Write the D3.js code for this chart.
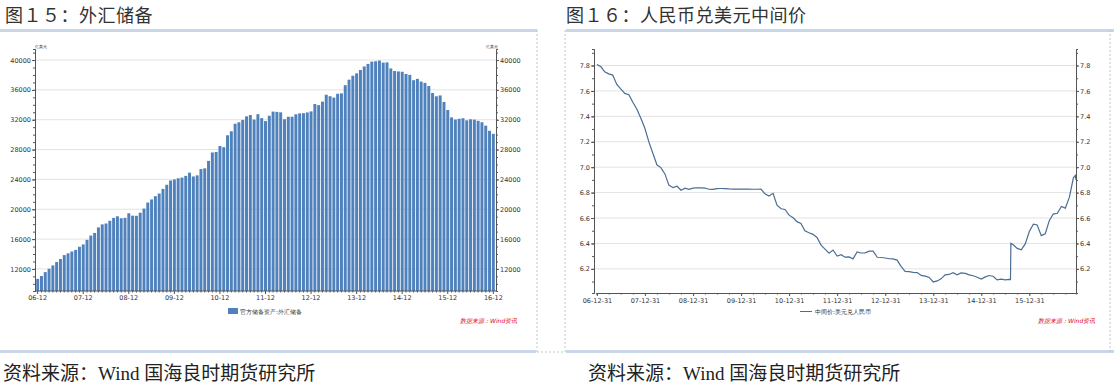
<!DOCTYPE html>
<html>
<head>
<meta charset="utf-8">
<script src="https://cdn.jsdelivr.net/npm/d3@7"></script>
<style>
  body { margin: 0; background: #fff; }
  svg { display: block; }
  .tiny { font-family: "DejaVu Sans", sans-serif; font-size: 6.5px; fill: #333; }
  .title { font-family: "Noto Sans CJK SC", sans-serif; font-size: 18px; fill: #333; letter-spacing: 0.5px; }
  .src { font-family: "Liberation Serif", "Noto Sans CJK SC", serif; font-size: 19px; fill: #222; }
</style>
</head>
<body>
<script>
const width = 1114, height = 387;

// 外汇储备, monthly, 亿美元, 2006-12 .. 2016-12
const reserveMonths = d3.range(121).map(i => new Date(2006, 11 + i, 1));
const reserveValues = [
  10663,
  11046, 11573, 12020, 12470, 12926, 13326, 13853, 14086, 14336, 14545, 14968, 15282,
  15898, 16471, 16822, 17566, 17969, 18088, 18452, 18841, 19056, 18797, 18847, 19460,
  19135, 19121, 19537, 20088, 20896, 21316, 21746, 22108, 22726, 23283, 23856, 23992,
  24152, 24245, 24471, 24905, 24395, 24543, 25380, 25483, 26483, 27609, 27679, 28473,
  28316, 29914, 30447, 31464, 31661, 31975, 32453, 32625, 32017, 32738, 32209, 31811,
  32536, 33090, 33050, 32989, 32061, 32400, 32400, 32730, 32851, 32874, 32977, 33116,
  34100, 33954, 34426, 35345, 35148, 34967, 35478, 35530, 36627, 37366, 37895, 38213,
  38666, 39137, 39481, 39788, 39838, 39932, 39660, 39688, 38877, 38529, 38473, 38430,
  38134, 38015, 37300, 37481, 37111, 36938, 36513, 35574, 35141, 35255, 34383, 33304,
  32309, 32023, 32126, 32197, 31917, 32052, 32011, 31852, 31664, 31206, 30516, 30105
];
const reserveTicks = [12000, 16000, 20000, 24000, 28000, 32000, 36000, 40000];

// 中间价:美元兑人民币
const fxDates = [
  "2006-12-31",
  "2007-01-31","2007-02-28","2007-03-31","2007-04-30","2007-05-31","2007-06-30","2007-07-31","2007-08-31","2007-09-30","2007-10-31","2007-11-30","2007-12-31",
  "2008-01-31","2008-02-29","2008-03-31","2008-04-30","2008-05-31","2008-06-30","2008-07-31","2008-08-31","2008-09-30","2008-10-31","2008-11-30","2008-12-31",
  "2009-01-31","2009-02-28","2009-03-31","2009-04-30","2009-05-31","2009-06-30","2009-07-31","2009-08-31","2009-09-30","2009-10-31","2009-11-30","2009-12-31",
  "2010-01-31","2010-02-28","2010-03-31","2010-04-30","2010-05-31","2010-06-30","2010-07-31","2010-08-31","2010-09-30","2010-10-31","2010-11-30","2010-12-31",
  "2011-01-31","2011-02-28","2011-03-31","2011-04-30","2011-05-31","2011-06-30","2011-07-31","2011-08-31","2011-09-30","2011-10-31","2011-11-30","2011-12-31",
  "2012-01-31","2012-02-29","2012-03-31","2012-04-30","2012-05-31","2012-06-30","2012-07-31","2012-08-31","2012-09-30","2012-10-31","2012-11-30","2012-12-31",
  "2013-01-31","2013-02-28","2013-03-31","2013-04-30","2013-05-31","2013-06-30","2013-07-31","2013-08-31","2013-09-30","2013-10-31","2013-11-30","2013-12-31",
  "2014-01-31","2014-02-28","2014-03-31","2014-04-30","2014-05-31","2014-06-30","2014-07-31","2014-08-31","2014-09-30","2014-10-31","2014-11-30","2014-12-31",
  "2015-01-31","2015-02-28","2015-03-31","2015-04-30","2015-05-31","2015-06-30","2015-07-31","2015-08-10","2015-08-13","2015-08-31","2015-09-30","2015-10-31","2015-11-30","2015-12-31",
  "2016-01-31","2016-02-29","2016-03-31","2016-04-30","2016-05-31","2016-06-30","2016-07-31","2016-08-31","2016-09-30","2016-10-31","2016-11-30","2016-12-15","2016-12-20"
];
const fxValues = [
  7.8087,
  7.7898, 7.7498, 7.7342, 7.7247, 7.6516, 7.6155, 7.5805, 7.5709, 7.5108, 7.4555, 7.3850, 7.3046,
  7.1956, 7.1100, 7.0190, 6.9965, 6.9472, 6.8591, 6.8388, 6.8498, 6.8183, 6.8349, 6.8258, 6.8346,
  6.8382, 6.8379, 6.8359, 6.8263, 6.8258, 6.8319, 6.8322, 6.8318, 6.8290, 6.8271, 6.8275, 6.8282,
  6.8270, 6.8269, 6.8263, 6.8263, 6.8284, 6.7909, 6.7735, 6.7943, 6.7011, 6.6732, 6.6670, 6.6227,
  6.6017, 6.5713, 6.5564, 6.4990, 6.4845, 6.4716, 6.4470, 6.3867, 6.3549, 6.3233, 6.3482, 6.3009,
  6.3115, 6.2919, 6.2943, 6.2787, 6.3338, 6.3249, 6.3264, 6.3393, 6.3395, 6.2913, 6.2892, 6.2855,
  6.2795, 6.2779, 6.2689, 6.2197, 6.1796, 6.1787, 6.1725, 6.1705, 6.1480, 6.1425, 6.1325, 6.0969,
  6.1050, 6.1214, 6.1521, 6.1560, 6.1695, 6.1528, 6.1675, 6.1647, 6.1525, 6.1461, 6.1345, 6.1190,
  6.1370, 6.1475, 6.1422, 6.1137, 6.1196, 6.1136, 6.1172, 6.1162, 6.4010, 6.3893, 6.3613, 6.3495, 6.3962, 6.4936,
  6.5516, 6.5452, 6.4612, 6.4762, 6.5790, 6.6312, 6.6371, 6.6908, 6.6778, 6.7641, 6.9168, 6.9350, 6.9000
];
const fxTicks = [6.2, 6.4, 6.6, 6.8, 7.0, 7.2, 7.4, 7.6, 7.8];
const fxLabelYears = d3.range(2006, 2016);

const svg = d3.select(document.body).append("svg")
  .attr("width", width).attr("height", height);

// ---------- frames, titles, sources ----------
const band = "#c8d6e7";
svg.append("rect").attr("x", 0).attr("y", 29).attr("width", 537).attr("height", 3).attr("fill", band);
svg.append("rect").attr("x", 566).attr("y", 29).attr("width", 548).attr("height", 3).attr("fill", band);
svg.append("rect").attr("x", 0).attr("y", 350).attr("width", 536).attr("height", 3).attr("fill", band);
svg.append("rect").attr("x", 566).attr("y", 350).attr("width", 548).attr("height", 3).attr("fill", band);

[537, 565, 1110].forEach(x => {
  svg.append("line").attr("x1", x).attr("x2", x).attr("y1", 30).attr("y2", 352)
    .attr("stroke", "#c4c4c4").attr("stroke-dasharray", "2,2");
});
svg.append("line").attr("x1", 537).attr("x2", 565).attr("y1", 352).attr("y2", 352)
  .attr("stroke", "#c4c4c4").attr("stroke-dasharray", "2,2");

svg.append("text").attr("class", "title").attr("x", 5).attr("y", 21.5).text("图１５：外汇储备");
svg.append("text").attr("class", "title").attr("x", 566).attr("y", 21.5).text("图１６：人民币兑美元中间价");
svg.append("text").attr("class", "src").attr("x", 3).attr("y", 380).text("资料来源：Wind 国海良时期货研究所");
svg.append("text").attr("class", "src").attr("x", 588).attr("y", 380).text("资料来源：Wind 国海良时期货研究所");

// ---------- left: bars ----------
const L = { left: 35, right: 496, top: 49, bottom: 291 };
const xb = d3.scaleBand().domain(reserveMonths.map((d, i) => i)).range([L.left + 1, L.right - 1]).paddingInner(0.22).paddingOuter(0.05);
const yb = d3.scaleLinear().domain([9040, 41480]).range([L.bottom, L.top]);

const gl = svg.append("g");
gl.selectAll("line.grid").data(reserveTicks).join("line")
  .attr("x1", L.left).attr("x2", L.right)
  .attr("y1", d => yb(d)).attr("y2", d => yb(d))
  .attr("stroke", "#e3e3e3");

gl.selectAll("rect.bar").data(reserveValues).join("rect")
  .attr("class", "bar")
  .attr("x", (d, i) => xb(i)).attr("width", xb.bandwidth())
  .attr("y", d => yb(d)).attr("height", d => L.bottom - yb(d))
  .attr("fill", "#4f81bd");

const axisColor = "#555";
function styleAxis(g) {
  g.select(".domain").attr("stroke", axisColor);
  g.selectAll(".tick line").attr("stroke", axisColor);
  g.selectAll(".tick text").attr("class", "tiny");
}
const yMinorL = d3.range(10000, 41001, 1000);
gl.append("g").attr("transform", `translate(${L.left},0)`)
  .call(d3.axisLeft(yb).tickValues(yMinorL).tickSize(2).tickFormat(""))
  .call(styleAxis);
gl.append("g").attr("transform", `translate(${L.left},0)`)
  .call(d3.axisLeft(yb).tickValues(reserveTicks).tickSize(3).tickPadding(1).tickFormat(d3.format("d")).tickSizeOuter(0))
  .call(styleAxis);
gl.append("g").attr("transform", `translate(${L.right},0)`)
  .call(d3.axisRight(yb).tickValues(yMinorL).tickSize(2).tickFormat(""))
  .call(styleAxis);
gl.append("g").attr("transform", `translate(${L.right},0)`)
  .call(d3.axisRight(yb).tickValues(reserveTicks).tickSize(3).tickPadding(1).tickFormat(d3.format("d")).tickSizeOuter(0))
  .call(styleAxis);

const xAxisL = gl.append("g").attr("transform", `translate(0,${L.bottom})`);
xAxisL.append("line").attr("x1", L.left).attr("x2", L.right).attr("stroke", axisColor);
xAxisL.selectAll("line.mt").data(reserveMonths.map((d, i) => i)).join("line")
  .attr("x1", i => xb(i) + xb.bandwidth() / 2).attr("x2", i => xb(i) + xb.bandwidth() / 2)
  .attr("y1", 0).attr("y2", d => d % 12 === 0 ? 3 : 1.5).attr("stroke", axisColor);
xAxisL.selectAll("text").data(reserveMonths.filter((d, i) => i % 12 === 0)).join("text")
  .attr("class", "tiny").attr("text-anchor", "middle")
  .attr("x", (d, i) => xb(i * 12) + xb.bandwidth() / 2).attr("y", 9)
  .text(d3.timeFormat("%y-%m"));

gl.append("text").attr("class", "tiny").attr("x", L.left).attr("y", L.top - 1).style("font-size", "4px").text("亿美元");
gl.append("text").attr("class", "tiny").attr("x", L.right - 10).attr("y", L.top - 1).style("font-size", "4px").text("亿美元");

gl.append("rect").attr("x", 228).attr("y", 308).attr("width", 10).attr("height", 6).attr("fill", "#4f81bd");
gl.append("text").attr("class", "tiny").attr("x", 240).attr("y", 313.5).style("font-size", "6px").text("官方储备资产:外汇储备");
gl.append("text").attr("class", "tiny").attr("x", 460).attr("y", 323).style("font-size", "6px")
  .style("fill", "#e0001b").style("font-style", "italic").text("数据来源：Wind资讯");

// ---------- right: line ----------
const R = { left: 594, right: 1076, top: 49, bottom: 293 };
const parse = d3.timeParse("%Y-%m-%d");
const fxData = fxDates.map((d, i) => ({ date: parse(d), value: fxValues[i] }));
const xf = d3.scaleTime().domain([parse("2006-12-24"), parse("2016-12-20")]).range([R.left + 2, R.right]);
const yf = d3.scaleLinear().domain([6.01, 7.93]).range([R.bottom, R.top]);

const gr = svg.append("g");
gr.selectAll("line.grid").data(fxTicks).join("line")
  .attr("x1", R.left).attr("x2", R.right)
  .attr("y1", d => yf(d)).attr("y2", d => yf(d))
  .attr("stroke", "#e3e3e3");

gr.append("path").datum(fxData)
  .attr("fill", "none").attr("stroke", "#4a6e94").attr("stroke-width", 1.2)
  .attr("d", d3.line().x(d => xf(d.date)).y(d => yf(d.value)));

const yMinorR = d3.range(6.1, 7.91, 0.1);
gr.append("g").attr("transform", `translate(${R.left},0)`)
  .call(d3.axisLeft(yf).tickValues(yMinorR).tickSize(2).tickFormat(""))
  .call(styleAxis);
gr.append("g").attr("transform", `translate(${R.left},0)`)
  .call(d3.axisLeft(yf).tickValues(fxTicks).tickSize(3).tickPadding(1).tickFormat(d3.format(".1f")).tickSizeOuter(0))
  .call(styleAxis);
gr.append("g").attr("transform", `translate(${R.right},0)`)
  .call(d3.axisRight(yf).tickValues(yMinorR).tickSize(2).tickFormat(""))
  .call(styleAxis);
gr.append("g").attr("transform", `translate(${R.right},0)`)
  .call(d3.axisRight(yf).tickValues(fxTicks).tickSize(3).tickPadding(1).tickFormat(d3.format(".1f")).tickSizeOuter(0))
  .call(styleAxis);

const xLabelDates = fxLabelYears.map(y => new Date(y, 11, 31));
const xMinorDates = d3.timeMonth.every(3).range(parse("2007-01-01"), parse("2016-12-01")).map(d => d3.timeDay.offset(d, -1));
gr.append("g").attr("transform", `translate(0,${R.bottom})`)
  .call(d3.axisBottom(xf).tickValues(xMinorDates).tickSize(1.5).tickFormat(""))
  .call(styleAxis);
gr.append("g").attr("transform", `translate(0,${R.bottom})`)
  .call(d3.axisBottom(xf).tickValues(xLabelDates).tickSize(3).tickPadding(2).tickSizeOuter(0).tickFormat(d3.timeFormat("%y-%m-%d")))
  .call(styleAxis);

gr.append("line").attr("x1", 800).attr("x2", 812).attr("y1", 311.5).attr("y2", 311.5).attr("stroke", "#4a6e94");
gr.append("text").attr("class", "tiny").attr("x", 815).attr("y", 314).style("font-size", "6px").text("中间价:美元兑人民币");
gr.append("text").attr("class", "tiny").attr("x", 1038).attr("y", 323).style("font-size", "6px")
  .style("fill", "#e0001b").style("font-style", "italic").text("数据来源：Wind资讯");
</script>
</body>
</html>
